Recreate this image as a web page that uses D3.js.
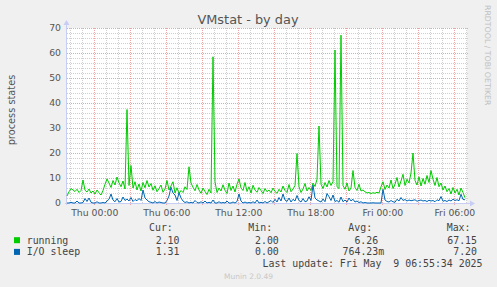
<!DOCTYPE html>
<html><head><meta charset="utf-8">
<script src="https://cdn.jsdelivr.net/npm/d3@7"></script>
<style>
html,body{margin:0;padding:0;background:#f0f0f0;}
svg{display:block;}
text{font-family:"DejaVu Sans",sans-serif;}
.mono{font-family:"DejaVu Sans Mono",monospace;white-space:pre;}
</style></head>
<body>
<script>
// ---- data ----
const title = "VMstat - by day";
const yLabel = "process states";
const startTime = Date.UTC(2025, 4, 7, 21, 43, 30); // Wed 21:43:30
const stepMinutes = 10;
const endTime = Date.UTC(2025, 4, 9, 7, 3, 30);
const yTicks = [0, 10, 20, 30, 40, 50, 60, 70];
const seriesNames = ["running", "I/O sleep"];
const seriesColors = ["#00cc00", "#0066b3"];
const running = [
 2.8,4.5,5.8,5.2,4.6,5.5,4.2,5.0,9.2,
 5.1,4.4,5.6,4.0,4.8,3.6,5.2,4.1,
 3.2,5.0,7.5,9.6,
 8.0,6.2,9.0,7.2,10.4,8.1,6.5,8.8,5.6,
 37.4,7.0,15.0,
 6.0,8.5,5.2,7.6,4.8,8.2,6.1,9.0,
 6.4,7.8,5.1,6.9,4.5,5.8,7.2,4.3,5.6,9.0,
 5.2,6.8,8.5,4.0,6.1,3.8,
 5.0,4.2,6.5,5.4,
 14.5,
 8.0,6.3,4.9,7.4,5.2,3.9,6.0,4.6,3.4,5.5,4.0,
 58.5,
 8.5,4.2,6.0,4.8,7.3,5.1,3.8,8.0,5.0,6.8,4.4,7.5,
 9.6,6.0,5.0,8.2,4.6,6.5,4.0,7.1,5.2,4.3,6.2,5.0,3.8,5.8,4.5,
 5.2,4.1,6.0,4.6,3.9,5.5,4.4,6.8,5.0,4.2,7.4,4.5,5.6,7.0,
 19.8,
 6.5,4.2,5.6,7.8,4.8,6.2,5.0,8.0,6.6,9.5,
 30.8,
 7.5,5.8,8.2,6.4,9.0,7.0,8.5,
 61.2,
 6.5,5.8,
 67.15,
 7.0,5.5,8.0,4.8,6.0,
 13.0,
 6.2,5.0,7.5,4.8,5.2,4.5,
 4.0,4.2,3.8,4.1,3.9,4.3,4.0,
 6.5,8.5,5.4,7.2,
 6.0,9.2,5.8,7.5,10.2,6.4,8.8,
 11.5,7.0,9.5,8.0,12.0,
 20.0,
 9.0,7.2,10.5,6.8,9.8,7.5,11.0,8.2,
 13.0,
 9.5,7.0,10.2,6.5,8.0,5.2,6.8,4.5,
 5.8,3.6,6.2,4.0,5.5,3.2,6.0,4.2,2.1
];
const ioSleep = [
 0.0,0.0,0.3,0.0,0.0,0.8,0.0,0.0,0.2,
 1.8,0.6,2.0,0.3,0.0,0.0,0.5,0.0,
 0.0,0.2,0.0,0.8,
 1.5,3.6,1.2,0.5,1.8,0.4,0.6,2.4,1.0,
 1.6,0.8,2.2,
 0.6,1.4,0.9,1.8,1.0,5.2,2.0,1.2,
 0.5,0.3,0.0,0.6,0.0,0.4,0.2,0.0,0.0,1.0,
 2.8,6.3,4.0,3.2,1.0,4.1,
 2.0,0.8,0.2,0.5,
 0.0,0.3,0.0,1.0,0.2,0.0,0.5,0.0,0.8,0.0,0.3,0.0,
 1.2,0.0,0.0,0.5,0.0,0.2,0.0,0.8,0.0,0.0,0.4,0.0,0.6,
 3.6,0.8,0.0,0.4,0.0,0.2,0.0,0.5,0.0,1.2,0.0,0.3,0.0,0.6,0.0,
 0.5,1.0,0.2,1.5,0.4,2.2,0.8,3.6,1.2,0.6,2.0,0.4,1.5,0.8,
 3.0,1.0,0.4,1.8,0.5,0.8,2.5,1.0,7.2,2.0,1.2,
 0.8,0.4,1.6,0.5,3.8,2.5,1.0,3.2,
 0.6,1.0,0.3,2.4,0.5,1.2,0.4,2.0,0.8,
 1.5,0.4,0.8,0.2,0.5,0.0,0.2,
 0.0,0.0,0.0,0.1,0.0,0.0,0.0,
 0.0,5.5,1.2,0.6,
 0.4,1.0,0.5,0.3,1.5,0.8,2.2,
 1.0,1.4,0.8,1.2,0.9,
 1.1,1.3,0.7,1.0,1.2,0.8,1.0,0.6,1.1,
 0.8,1.0,0.5,1.3,0.9,2.6,0.7,1.0,0.6,
 1.2,0.8,1.5,1.0,1.3,0.9,3.5,1.4,1.31
];
const legendHeaders = ["Cur:", "Min:", "Avg:", "Max:"];
const legendRows = [
  ["2.10", "2.00", "6.26", "67.15"],
  ["1.31", "0.00", "764.23m", "7.20"]
];
const lastUpdate = "Last update: Fri May  9 06:55:34 2025";
const footer = "Munin 2.0.49";
const sideText = "RRDTOOL / TOBI OETIKER";

// ---- layout ----
const W = 497, H = 287;
const plot = {left: 67, right: 467, top: 28, bottom: 203};
const textColor = "#555";

const svg = d3.select("body").append("svg").attr("width", W).attr("height", H);
svg.append("rect").attr("width", W).attr("height", H).attr("fill", "#f0f0f0");

const x = d3.scaleUtc().domain([new Date(startTime), new Date(endTime)]).range([plot.left, plot.right]);
const y = d3.scaleLinear().domain([0, 70]).range([plot.bottom, plot.top]);

svg.append("rect").attr("x", plot.left).attr("y", plot.top)
  .attr("width", plot.right - plot.left).attr("height", plot.bottom - plot.top).attr("fill", "#ffffff");

const grid = svg.append("g");
const minorColor = "#cfcfcf", majorColor = "#eea4a4";
function hLine(v, color) {
  const yy = Math.round(y(v)) + 0.5;
  grid.append("path").attr("d", `M${plot.left},${yy}H${plot.right + 1}`)
    .attr("stroke", color).attr("stroke-width", 1).attr("stroke-dasharray", "1,1").attr("fill", "none");
}
function vLine(d, color, extra) {
  const xx = Math.round(x(d)) + 0.5;
  grid.append("path").attr("d", `M${xx},${plot.top}V${plot.bottom + extra}`)
    .attr("stroke", color).attr("stroke-width", 1).attr("stroke-dasharray", "1,1").attr("fill", "none");
}
// minor horizontal every 2
d3.range(2, 71, 2).filter(v => v % 10 !== 0).forEach(v => hLine(v, minorColor));
// minor vertical every hour
const hours = d3.utcHour.range(new Date(startTime), new Date(endTime));
hours.filter(d => d.getUTCHours() % 3 !== 0).forEach(d => vLine(d, minorColor, 0));
// major horizontal
yTicks.filter(v => v > 0).forEach(v => hLine(v, majorColor));
// major vertical every 3 hours
hours.filter(d => d.getUTCHours() % 3 === 0).forEach(d => vLine(d, majorColor, 2));

// axes
const axisColor = "#c8cdf5";
svg.append("line").attr("x1", plot.left - 0.5).attr("x2", plot.left - 0.5)
  .attr("y1", plot.bottom + 2).attr("y2", plot.top - 5).attr("stroke", axisColor);
svg.append("path").attr("d", `M${plot.left - 3.5},${plot.top - 3} L${plot.left - 0.5},${plot.top - 8} L${plot.left + 2.5},${plot.top - 3} Z`).attr("fill", axisColor);
svg.append("line").attr("x1", plot.left - 2).attr("x2", plot.right + 5)
  .attr("y1", plot.bottom + 0.5).attr("y2", plot.bottom + 0.5).attr("stroke", axisColor);
svg.append("path").attr("d", `M${plot.right + 3},${plot.bottom - 2.5} L${plot.right + 8},${plot.bottom + 0.5} L${plot.right + 3},${plot.bottom + 3.5} Z`).attr("fill", axisColor);

// y tick labels
const yAxis = d3.axisLeft(y).tickValues(yTicks).tickSize(0).tickPadding(6).tickFormat(d3.format("d"));
const gy = svg.append("g").attr("transform", `translate(${plot.left},0)`).call(yAxis);
gy.select(".domain").remove();
gy.selectAll("text").attr("fill", textColor).style("font-size", "9.3px").style("font-family", "DejaVu Sans");

// x tick labels every 6 hours
const xTicks = hours.filter(d => d.getUTCHours() % 6 === 0);
const xAxis = d3.axisBottom(x).tickValues(xTicks).tickSize(0).tickPadding(6).tickFormat(d3.utcFormat("%a %H:%M"));
const gx = svg.append("g").attr("transform", `translate(0,${plot.bottom})`).call(xAxis);
gx.select(".domain").remove();
gx.selectAll("text").attr("fill", textColor).style("font-size", "9.3px").style("font-family", "DejaVu Sans");

// series
const series = [running, ioSleep];
const line = d3.line()
  .x((d, i) => x(new Date(startTime + i * stepMinutes * 60000)))
  .y(d => y(d));
series.forEach((s, k) => {
  svg.append("path").datum(s).attr("d", line).attr("fill", "none")
    .attr("stroke", seriesColors[k]).attr("stroke-width", 1);
});

// title
svg.append("text").attr("x", 248).attr("y", 24).attr("text-anchor", "middle")
  .attr("fill", textColor).style("font-size", "12.9px").text(title);
// y label
svg.append("text").attr("transform", "translate(14.5,110) rotate(-90)").attr("text-anchor", "middle")
  .attr("fill", textColor).style("font-size", "9.8px").text(yLabel);
// side text
svg.append("text").attr("transform", "translate(484.5,5) rotate(90)").attr("text-anchor", "start")
  .attr("fill", "#c0c0c0").style("font-size", "7.8px").text(sideText);

// legend
const legendFont = "9.9px";
const headerX = [149, 248.3, 348.3, 446.7];
const valueEndX = [179.5, 278.8, 378.2, 477];
headerX.forEach((hx, j) => {
  svg.append("text").attr("class", "mono").attr("x", hx).attr("y", 231)
    .attr("fill", "#444").style("font-size", legendFont).text(legendHeaders[j]);
});
const rowY = [243.5, 255.2];
seriesNames.forEach((name, k) => {
  svg.append("rect").attr("x", 14).attr("y", rowY[k] - 6.3).attr("width", 6).attr("height", 6).attr("fill", seriesColors[k]);
  svg.append("text").attr("class", "mono").attr("x", 26.7).attr("y", rowY[k])
    .attr("fill", "#444").style("font-size", legendFont).text(name);
  legendRows[k].forEach((v, j) => {
    const hasSuffix = /[a-zA-Z]$/.test(v);
    svg.append("text").attr("class", "mono").attr("x", valueEndX[j] + (hasSuffix ? 6 : 0)).attr("y", rowY[k])
      .attr("text-anchor", "end").attr("fill", "#444").style("font-size", legendFont).text(v);
  });
});
svg.append("text").attr("class", "mono").attr("x", 482.5).attr("y", 267).attr("text-anchor", "end")
  .attr("fill", "#444").style("font-size", legendFont).text(lastUpdate);
svg.append("text").attr("x", 248.5).attr("y", 279).attr("text-anchor", "middle")
  .attr("fill", "#c8c8c8").style("font-size", "7.5px").text(footer);
</script>
</body></html>
